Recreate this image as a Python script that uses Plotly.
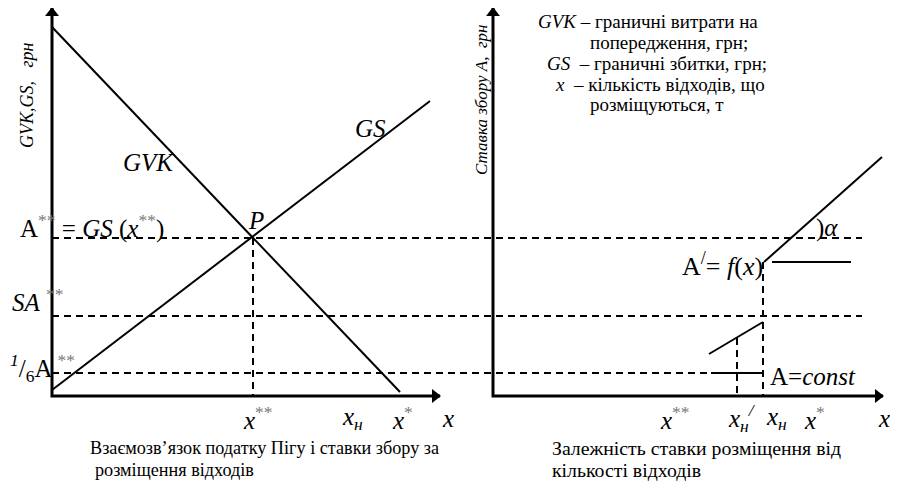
import plotly.graph_objects as go

H = 483
def Y(v):
    return [H - t for t in v]

# ---- data (diagram units: x to the right, y measured from top, converted) ----
left_axis_x = [52, 52, 440]
left_axis_y = [8, 396, 396]
right_axis_x = [493, 493, 883]
right_axis_y = [8, 396, 396]

gvk_x = [52, 400]
gvk_y = [27, 392]
gs_x = [52, 430]
gs_y = [390, 101]

dash_a_x = [52, 862]
dash_a_y = [238, 238]
dash_sa_x = [52, 862]
dash_sa_y = [316, 316]
dash_sixth_x = [52, 711]
dash_sixth_y = [373, 373]
dash_p_x = [253, 253]
dash_p_y = [238, 396]

rise_x = [764, 882]
rise_y = [262, 157]
flat_hi_x = [772, 851]
flat_hi_y = [262, 262]
mid_x = [709, 763]
mid_y = [354, 322]
flat_lo_x = [711, 763]
flat_lo_y = [373, 373]
dash_xh_x = [763, 763]
dash_xh_y = [262, 396]
dash_xh2_x = [737, 737]
dash_xh2_y = [338, 396]

fig = go.Figure()

def line(xs, ys, w=2, dash=None):
    fig.add_trace(go.Scatter(x=xs, y=Y(ys), mode="lines",
                             line=dict(color="black", width=w, dash=dash),
                             hoverinfo="skip", showlegend=False))

line(left_axis_x, left_axis_y, 3)
line(right_axis_x, right_axis_y, 3)
line(gvk_x, gvk_y)
line(gs_x, gs_y)
D = "7px,5px"
line(dash_a_x, dash_a_y, 2, D)
line(dash_sa_x, dash_sa_y, 2, D)
line(dash_sixth_x, dash_sixth_y, 2, D)
line(dash_p_x, dash_p_y, 2, D)
line(rise_x, rise_y)
line(flat_hi_x, flat_hi_y)
line(mid_x, mid_y)
line(flat_lo_x, flat_lo_y)
line(dash_xh_x, dash_xh_y, 2, D)
line(dash_xh2_x, dash_xh2_y, 2, D)

# arrow heads
fig.add_trace(go.Scatter(x=[left_axis_x[0], right_axis_x[0]], y=Y([left_axis_y[0] + 5, right_axis_y[0] + 5]),
                         mode="markers", marker=dict(symbol="triangle-up", size=12, color="black"),
                         hoverinfo="skip", showlegend=False))
fig.add_trace(go.Scatter(x=[left_axis_x[-1] - 5, right_axis_x[-1] - 5], y=Y([left_axis_y[-1], right_axis_y[-1]]),
                         mode="markers", marker=dict(symbol="triangle-right", size=12, color="black"),
                         hoverinfo="skip", showlegend=False))

F = "Liberation Serif"
W, HH = 890, 475
def txt(x, y, s, size=17, xa="left", ya="middle", angle=0):
    fig.add_annotation(x=(x - 8) / W, y=(H - y) / HH, xref="paper", yref="paper", text=s,
                       showarrow=False, xanchor=xa, yanchor=ya, textangle=angle,
                       font=dict(family=F, size=size))

NB = "\u00a0"
G = "<span style='color:#777'>**</span>"
# axis titles
txt(27, 95, "<i>GVK,GS," + NB * 3 + "грн</i>", 18, "center", "middle", -90)
txt(481, 100, "<i>Ставка збору А," + NB * 2 + "грн</i>", 17, "center", "middle", -90)

# legend text
txt(536, 21, "<i>GVK</i> – граничні витрати на", 19)
txt(588, 42, "попередження, грн;", 19)
txt(545, 63, "<i>GS</i>" + NB + " – граничні збитки, грн;", 19)
txt(553, 84, "<i>x</i>" + NB + " – кількість відходів, що", 19)
txt(588, 104, "розміщуються, т", 19)

# left panel labels
txt(18, 226, "A<sup>" + G + "</sup> = <i>GS</i> (<i>x</i><sup>" + G + "</sup>)", 25)
txt(256, 220, "<i>P</i>", 25, "center")
txt(148, 162, "<i>GVK</i>", 25, "center")
txt(370, 128, "<i>GS</i>", 25, "center")
txt(10, 300, "<i>SA</i> <sup>" + G + "</sup>", 25)
txt(8, 368, "<sup><i>1</i></sup>/<sub>6</sub>A <sup>" + G + "</sup>", 25)

# right panel labels
txt(765, 264, "A<sup>/</sup>= <i>f</i>(<i>x</i>)", 26, "right")
txt(814, 228, ")<i>α</i>", 25)
txt(768, 376, "A=<i>const</i>", 25)

# x-axis labels
XL = 418
txt(258, XL, "<i>x</i><sup>" + G + "</sup>", 25, "center")
txt(352, XL, "<i>x<sub>н</sub></i>", 25, "center")
txt(402, XL, "<i>x</i><sup><span style='color:#777'>*</span></sup>", 25, "center")
txt(448, XL, "<i>x</i>", 25, "center")
txt(675, XL, "<i>x</i><sup>" + G + "</sup>", 25, "center")
txt(742, XL, "<i>x<sub>н</sub><sup>/</sup></i>", 25, "center")
txt(776, XL, "<i>x<sub>н</sub></i>", 25, "center")
txt(814, XL, "<i>x</i><sup><span style='color:#777'>*</span></sup>", 25, "center")
txt(884, XL, "<i>x</i>", 25, "center")

# captions
txt(88, 448, "Взаємозв’язок податку Пігу і ставки збору за", 18.2)
txt(93, 470, "розміщення відходів", 18.2)
txt(550, 448, "Залежність ставки розміщення від", 19.8)
txt(550, 470, "кількості відходів", 19.8)

# the page body has an 8px margin: size the figure so it fits the window
# and set the ranges so that diagram units equal window pixels
fig.update_layout(width=W, height=HH, margin=dict(l=0, r=0, t=0, b=0),
                  paper_bgcolor="white", plot_bgcolor="white",
                  font=dict(family=F, color="#000000"),
                  xaxis=dict(range=[8, 898], visible=False, fixedrange=True),
                  yaxis=dict(range=[0, 475], visible=False, fixedrange=True))
fig.write_html("out.html")
